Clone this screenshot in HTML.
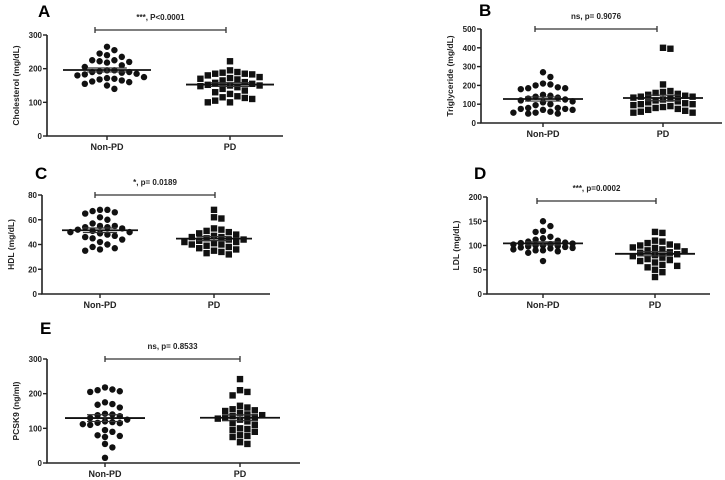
<!DOCTYPE html>
<html><head><meta charset="utf-8"><style>
html,body{margin:0;padding:0;background:#fff;}
svg{display:block;font-family:"Liberation Sans",Arial,sans-serif;}
</style></head><body>
<svg id="fig" width="725" height="480" viewBox="0 0 725 480"></svg>
<script>
// ---- data ----
const groups = ["Non-PD", "PD"];
const cholNon = [265,255,245,240,235,225,222,220,218,225,210,205,195,192,190,195,190,188,185,175,172,170,168,165,160,162,155,150,140,180,183];
const cholPD = [222,195,190,188,185,185,183,180,175,172,170,168,165,160,158,155,152,150,150,148,145,140,135,130,125,115,113,110,105,100,100,118];
const trigNon = [270,245,210,205,200,190,185,185,180,150,145,140,135,130,125,120,115,110,100,95,80,80,75,75,70,70,60,55,55,50,50];
const trigPD = [400,395,205,170,165,160,155,150,145,140,140,135,130,125,120,115,110,105,100,100,95,90,85,80,75,70,65,60,55,55];
const hdlNon = [68,68,67,66,65,62,60,57,55,55,54,54,53,52,51,50,50,49,48,47,46,45,44,42,40,38,37,36,35];
const hdlPD = [68,62,61,53,52,51,50,49,48,47,46,46,45,44,44,43,42,42,41,40,40,39,38,37,36,35,34,33,32];
const ldlNon = [150,140,130,128,118,115,112,110,108,106,105,104,103,102,100,100,99,98,97,96,95,94,92,90,90,88,85,68];
const ldlPD = [128,126,110,108,105,102,100,98,96,95,92,90,88,86,85,82,80,78,75,72,70,68,65,60,58,55,50,45,35];
const pcskNon = [218,212,210,207,205,175,170,168,160,142,140,138,135,130,125,120,118,116,115,112,110,95,90,80,78,75,55,45,15];
const pcskPD = [242,210,205,195,165,160,155,152,150,145,140,138,135,132,130,128,125,120,115,110,100,98,95,90,80,78,75,60,55];
const cholTicks = [0,100,200,300];
const trigTicks = [0,100,200,300,400,500];
const hdlTicks = [0,20,40,60,80];
const ldlTicks = [0,50,100,150,200];
const pcskTicks = [0,100,200,300];
const sigLabels = ["***, P<0.0001","ns, p= 0.9076","*, p= 0.0189","***, p=0.0002","ns, p= 0.8533"];

const NS="http://www.w3.org/2000/svg";
const svg=document.getElementById('fig');
function mk(tag,attrs,parent){const e=document.createElementNS(NS,tag);for(const k in attrs)e.setAttribute(k,attrs[k]);(parent||svg).appendChild(e);return e;}

function swarm(vals,cx,yf,r,maxOff){
  const sorted=vals.slice().sort((a,b)=>b-a);const placed=[];
  const step=2*r+1;const n=Math.floor(maxOff/step);
  const cands=[0];for(let k=1;k<=n;k++){cands.push(k*step,-k*step);}
  sorted.forEach(v=>{const y=yf(v);let best=0,bestD=-1,found=false;
    for(const c of cands){const d=placed.length?Math.min(...placed.map(p=>Math.hypot(p.x-(cx+c),p.y-y))):99;
      if(d>=2*r+0.5){best=c;found=true;break;}
      if(d>bestD){bestD=d;best=c;}}
    placed.push({x:cx+best,y:y,v:v});});
  return placed;
}

function panel(cfg){
  const g=mk('g',{});
  
  
  const ymax=cfg.ticks[cfg.ticks.length-1];
  const yf=v=>cfg.y0+(cfg.yTop-cfg.y0)*v/ymax;
  const lbl=mk('text',{x:cfg.lx,y:cfg.ly,'font-size':17,'font-weight':'bold'},g);lbl.textContent=cfg.letter;
  
  const ax=mk('path',{d:`M${cfg.ax} ${cfg.yTop} V${cfg.y0} H${cfg.xr}`,stroke:'#222','stroke-width':1.6,fill:'none'},g);
  
  cfg.ticks.forEach(t=>{const y=yf(t);mk('line',{x1:cfg.ax-4,x2:cfg.ax,y1:y,y2:y,stroke:'#222','stroke-width':1.4},g);
    const tx=mk('text',{x:cfg.ax-5,y:y+3,'font-size':8,'font-weight':'bold','text-anchor':'end',fill:'#222'},g);tx.textContent=t;
    });
  const yl=mk('text',{transform:`translate(${cfg.ax-28},${(cfg.yTop+cfg.y0)/2}) rotate(-90)`,'font-size':8.5,'font-weight':'bold','text-anchor':'middle',fill:'#222'},g);
  yl.textContent=cfg.ylabel;
  groups.forEach((gn,i)=>{const cx=cfg.cx[i];
    mk('line',{x1:cx,x2:cx,y1:cfg.y0,y2:cfg.y0+4,stroke:'#222','stroke-width':1.4},g);
    const t=mk('text',{x:cx,y:cfg.y0+14,'font-size':9,'font-weight':'bold','text-anchor':'middle',fill:'#222'},g);t.textContent=gn;
    
    const vals=cfg.data[i];const pts=swarm(vals,cx,yf,3.2,cfg.hw-6);
    pts.forEach(p=>{let m;
      if(i===0)m=mk('circle',{cx:p.x,cy:p.y,r:3.2,fill:'#111'},g);
      else m=mk('rect',{x:p.x-3.2,y:p.y-3.2,width:6.4,height:6.4,fill:'#111'},g);
      });
    const mean=vals.reduce((a,b)=>a+b,0)/vals.length;
    const sd=Math.sqrt(vals.reduce((a,b)=>a+(b-mean)**2,0)/(vals.length-1));const sem=sd/Math.sqrt(vals.length);
    const ml=mk('line',{x1:cx-cfg.hw,x2:cx+cfg.hw,y1:yf(mean),y2:yf(mean),stroke:'#111','stroke-width':1.8},g);
    
    const eb=mk('path',{d:`M${cx-cfg.hw*0.45} ${yf(mean+sem)} H${cx+cfg.hw*0.45} M${cx-cfg.hw*0.45} ${yf(mean-sem)} H${cx+cfg.hw*0.45} M${cx} ${yf(mean+sem)} V${yf(mean-sem)}`,stroke:'#333','stroke-width':1.2,fill:'none'},g);
    
  });
  const br=mk('path',{d:`M${cfg.bx[0]} ${cfg.by-3} V${cfg.by+3} M${cfg.bx[0]} ${cfg.by} H${cfg.bx[1]} M${cfg.bx[1]} ${cfg.by-3} V${cfg.by+3}`,stroke:'#333','stroke-width':1.3,fill:'none'},g);
  
  const st=mk('text',{x:(cfg.bx[0]+cfg.bx[1])/2,y:cfg.by-10,'font-size':8,'font-weight':'bold','text-anchor':'middle',fill:'#222'},g);
  st.textContent=cfg.sig;
}

panel({letter:'A',lx:38,ly:17,ax:47,yTop:35,y0:136,xr:283,cx:[107,230],hw:44,bx:[95,226],by:30,ticks:cholTicks,data:[cholNon,cholPD],ylabel:'Cholesterol (mg/dL)',sig:sigLabels[0]});
panel({letter:'B',lx:479,ly:16,ax:481,yTop:29,y0:123,xr:722,cx:[543,663],hw:40,bx:[535,657],by:29,ticks:trigTicks,data:[trigNon,trigPD],ylabel:'Triglyceride (mg/dL)',sig:sigLabels[1]});
panel({letter:'C',lx:35,ly:179,ax:42,yTop:195,y0:294,xr:270,cx:[100,214],hw:38,bx:[95,215],by:195,ticks:hdlTicks,data:[hdlNon,hdlPD],ylabel:'HDL (mg/dL)',sig:sigLabels[2]});
panel({letter:'D',lx:474,ly:179,ax:487,yTop:197,y0:294,xr:710,cx:[543,655],hw:40,bx:[537,656],by:201,ticks:ldlTicks,data:[ldlNon,ldlPD],ylabel:'LDL (mg/dL)',sig:sigLabels[3]});
panel({letter:'E',lx:40,ly:334,ax:47,yTop:359,y0:463,xr:300,cx:[105,240],hw:40,bx:[105,240],by:359,ticks:pcskTicks,data:[pcskNon,pcskPD],ylabel:'PCSK9 (ng/ml)',sig:sigLabels[4]});
</script>
</body></html>
